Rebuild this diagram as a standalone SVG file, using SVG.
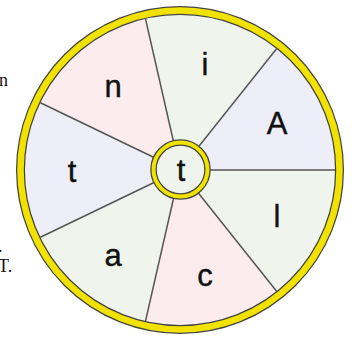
<svg xmlns="http://www.w3.org/2000/svg" width="355" height="337" viewBox="0 0 355 337">
<style>
.pink{fill:#fcecee}
.green{fill:#eff4ec}
.lav{fill:#eeeef9}
.lbl{font-family:"Liberation Sans",Arial,sans-serif;font-size:31px;fill:#111;stroke:#111;stroke-width:0.4;text-anchor:middle}
.side{font-family:"Liberation Serif","Times New Roman",serif;font-size:18px;fill:#111}
.spoke{stroke:#555;stroke-width:1.5;fill:none}
</style>
<rect width="355" height="337" fill="#fff"/>
<text class="side" x="-1" y="86">n</text>
<text class="side" x="-2" y="252">.</text>
<text class="side" x="-2" y="272">T.</text>
<g id="sectors">
<path class="lav" d="M180,170 L335,170 A155,155 0 0 0 276.6,48.8 Z"/>
<path class="green" d="M180,170 L276.6,48.8 A155,155 0 0 0 145.5,18.9 Z"/>
<path class="pink" d="M180,170 L145.5,18.9 A155,155 0 0 0 40.4,102.7 Z"/>
<path class="lav" d="M180,170 L40.4,102.7 A155,155 0 0 0 40.4,237.3 Z"/>
<path class="green" d="M180,170 L40.4,237.3 A155,155 0 0 0 145.5,321.1 Z"/>
<path class="pink" d="M180,170 L145.5,321.1 A155,155 0 0 0 276.6,291.2 Z"/>
<path class="green" d="M180,170 L276.6,291.2 A155,155 0 0 0 335,170 Z"/>
</g>
<g id="connectors">
<line class="spoke" x1="180" y1="170" x2="335" y2="170"/>
<line class="spoke" x1="180" y1="170" x2="276.6" y2="48.8"/>
<line class="spoke" x1="180" y1="170" x2="145.5" y2="18.9"/>
<line class="spoke" x1="180" y1="170" x2="40.4" y2="102.7"/>
<line class="spoke" x1="180" y1="170" x2="40.4" y2="237.3"/>
<line class="spoke" x1="180" y1="170" x2="145.5" y2="321.1"/>
<line class="spoke" x1="180" y1="170" x2="276.6" y2="291.2"/>
</g>
<g id="rim">
<circle cx="180" cy="170" r="159.5" fill="none" stroke="#444" stroke-width="9"/>
<circle cx="180" cy="170" r="159.5" fill="none" stroke="#f2e200" stroke-width="6.5"/>
</g>
<g id="hub">
<circle cx="180.5" cy="169.5" r="27" fill="#eff4ec" stroke="#444" stroke-width="6.5"/>
<circle cx="180.5" cy="169.5" r="27" fill="none" stroke="#f2e200" stroke-width="4"/>
<text class="lbl" x="181" y="181">t</text>
</g>
<g id="node-A"><text class="lbl" x="277" y="134">A</text></g>
<g id="node-i"><text class="lbl" x="205" y="75">i</text></g>
<g id="node-n"><text class="lbl" x="113" y="97">n</text></g>
<g id="node-t"><text class="lbl" x="72" y="182">t</text></g>
<g id="node-a"><text class="lbl" x="113" y="266">a</text></g>
<g id="node-c"><text class="lbl" x="205" y="286">c</text></g>
<g id="node-l"><text class="lbl" x="277" y="227">l</text></g>
</svg>
